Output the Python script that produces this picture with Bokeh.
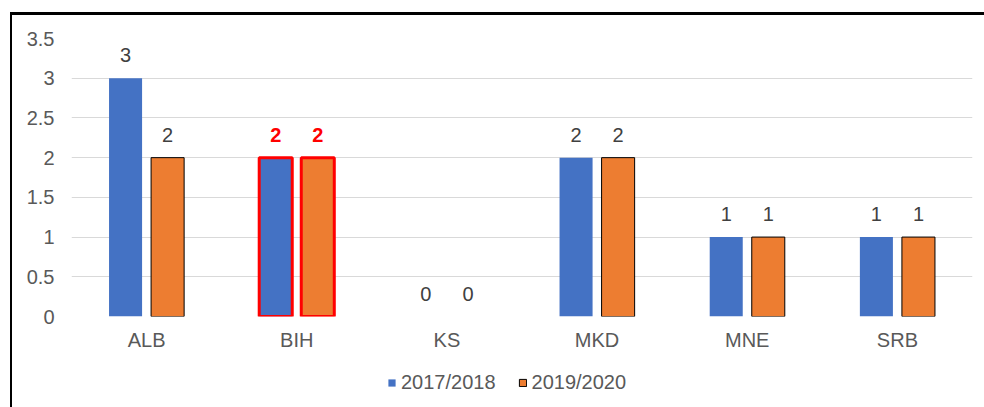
from bokeh.plotting import figure
from bokeh.layouts import column
from bokeh.models import ColumnDataSource, FactorRange, Legend, LegendItem, SingleIntervalTicker
from bokeh.transform import dodge
from bokeh.core.properties import value
from bokeh.embed import file_html
from bokeh.resources import INLINE

categories = ["ALB", "BIH", "KS", "MKD", "MNE", "SRB"]
series_names = ["2017/2018", "2019/2020"]
values_2017 = [3, 2, 0, 2, 1, 1]
values_2019 = [2, 2, 0, 2, 1, 1]
highlight = "BIH"

BLUE = "#4472C4"
ORANGE = "#ED7D31"
FONT = "Liberation Sans"
FS = "20px"

p = figure(width=972, height=345, x_range=FactorRange(factors=categories),
           y_range=(0, 3.5), output_backend="svg", toolbar_location=None,
           min_border_left=59, min_border_right=12, min_border_top=23, min_border_bottom=44)
p.outline_line_color = None
p.background_fill_color = "white"
p.border_fill_color = "white"

def make_source(vals, base_line_color, base_line_width):
    lc = ["red" if c == highlight else base_line_color for c in categories]
    lw = [3 if c == highlight else (base_line_width if v > 0 else 0)
          for c, v in zip(categories, vals)]
    tc = ["#FF0000" if c == highlight else "#404040" for c in categories]
    ts = ["bold" if c == highlight else "normal" for c in categories]
    return ColumnDataSource(dict(cat=categories, val=vals, lc=lc, lw=lw,
                                 label=[str(v) for v in vals], tc=tc, ts=ts))

src1 = make_source(values_2017, BLUE, 0)
src2 = make_source(values_2019, "black", 1)

off = 0.14
w = 0.22
p.vbar(x=dodge("cat", -off, range=p.x_range), top="val", width=w, source=src1,
       fill_color=BLUE, line_color="lc", line_width="lw")
p.vbar(x=dodge("cat", off, range=p.x_range), top="val", width=w, source=src2,
       fill_color=ORANGE, line_color="lc", line_width="lw")

for src, o in ((src1, -off), (src2, off)):
    p.text(x=dodge("cat", o, range=p.x_range), y="val", text="label", source=src,
           text_align="center", text_baseline="alphabetic", y_offset=-23,
           text_font=value(FONT), text_font_size=FS, text_color="tc",
           text_font_style="ts")

p.yaxis.ticker = SingleIntervalTicker(interval=0.5)
for ax in (p.xaxis, p.yaxis):
    ax.axis_line_color = None
    ax.major_tick_line_color = None
    ax.minor_tick_line_color = None
    ax.major_tick_out = 0
    ax.major_label_text_font = FONT
    ax.major_label_text_font_size = FS
    ax.major_label_text_color = "#595959"
p.yaxis.major_label_standoff = 13
p.xaxis.major_label_standoff = 12

p.xgrid.grid_line_color = None
p.ygrid.grid_line_color = "#D9D9D9"
p.ygrid.grid_line_width = 1

# legend strip (proxy glyphs lie outside its visible range, only their legend swatches show)
lf = figure(width=972, height=47, output_backend="svg", toolbar_location=None,
            x_axis_type=None, y_axis_type=None, min_border=0,
            x_range=(0, 1), y_range=(0, 1))
lf.outline_line_color = None
lf.grid.visible = False
lf.border_fill_color = "white"
proxy = ColumnDataSource(dict(l=[-3], r=[-2], t=[-2], b=[-3]))
l1 = lf.quad(left="l", right="r", top="t", bottom="b", source=proxy,
             fill_color=BLUE, line_color=None)
l2 = lf.quad(left="l", right="r", top="t", bottom="b", source=proxy,
             fill_color=ORANGE, line_color="black", line_width=1)
legend = Legend(items=[LegendItem(label=series_names[0], renderers=[l1]),
                       LegendItem(label=series_names[1], renderers=[l2])],
                orientation="horizontal", location=(316, 13),
                label_text_font=FONT, label_text_font_size=FS,
                label_text_color="#595959", glyph_width=9, glyph_height=9,
                spacing=22, label_standoff=5, padding=0, margin=0,
                border_line_color=None, background_fill_alpha=0)
lf.add_layout(legend, "center")

layout = column(p, lf, spacing=0,
                styles={"border-left": "2px solid black", "border-top": "3px solid black",
                        "margin-left": "10px", "margin-top": "12px"})

open("out.html", "w").write(file_html(layout, INLINE))
